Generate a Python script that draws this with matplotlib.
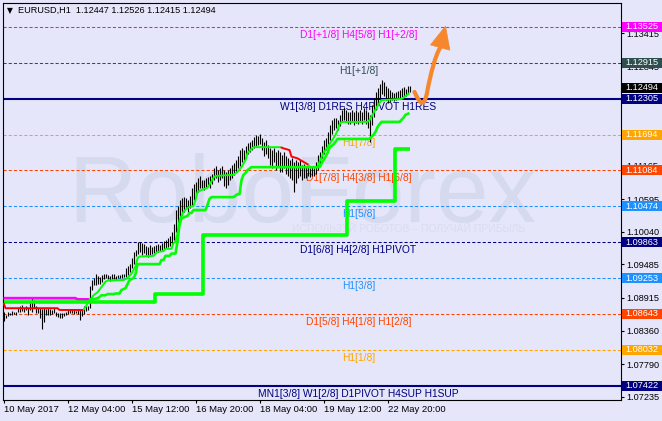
import numpy as np
import matplotlib
matplotlib.use('Agg')
import matplotlib.pyplot as plt
import matplotlib.transforms as mtransforms
from matplotlib.patches import Rectangle, PathPatch, Polygon
from matplotlib.path import Path
from matplotlib import font_manager

plt.rcParams['font.family'] = ['Liberation Sans', 'DejaVu Sans']

# ---------------- data ----------------
header = "EURUSD,H1  1.12447 1.12526 1.12415 1.12494"
current_price = 1.12494

highs = [1.0868, 1.0862, 1.0868, 1.0866, 1.0869, 1.0868, 1.0868, 1.0874, 1.0877, 1.0879,
         1.0874, 1.0877, 1.0874, 1.0885, 1.0891, 1.0888, 1.0878, 1.0874, 1.0874, 1.0872,
         1.0874, 1.0872, 1.0874, 1.0873, 1.0871, 1.0874, 1.0868, 1.0865, 1.0866, 1.0865,
         1.0866, 1.0868, 1.0871, 1.0872, 1.0871, 1.0871, 1.0870, 1.0871, 1.0871, 1.0872,
         1.0877, 1.0878, 1.0878, 1.0911, 1.0922, 1.0925, 1.0933, 1.0928, 1.0927, 1.0930,
         1.0933, 1.0933, 1.0930, 1.0929, 1.0932, 1.0933, 1.0928, 1.0930, 1.0930, 1.0932,
         1.0933, 1.0942, 1.0945, 1.0950, 1.0959, 1.0970, 1.0973, 1.0987, 1.0987, 1.0985,
         1.0983, 1.0980, 1.0978, 1.0982, 1.0978, 1.0980, 1.0982, 1.0983, 1.0982, 1.0985,
         1.0988, 1.0990, 1.0993, 1.0997, 1.1004, 1.1017, 1.1041, 1.1048, 1.1058, 1.1061,
         1.1063, 1.1061, 1.1058, 1.1065, 1.1079, 1.1085, 1.1089, 1.1096, 1.1099, 1.1092,
         1.1092, 1.1096, 1.1097, 1.1099, 1.1102, 1.1113, 1.1116, 1.1109, 1.1113, 1.1116,
         1.1109, 1.1106, 1.1109, 1.1113, 1.1118, 1.1121, 1.1126, 1.1133, 1.1143, 1.1147,
         1.1143, 1.1150, 1.1155, 1.1157, 1.1160, 1.1165, 1.1169, 1.1167, 1.1170, 1.1164,
         1.1157, 1.1160, 1.1152, 1.1147, 1.1143, 1.1147, 1.1140, 1.1143, 1.1140, 1.1135,
         1.1140, 1.1133, 1.1130, 1.1126, 1.1130, 1.1123, 1.1126, 1.1123, 1.1126, 1.1118,
         1.1119, 1.1116, 1.1116, 1.1113, 1.1116, 1.1113, 1.1123, 1.1135, 1.1140, 1.1150,
         1.1160, 1.1164, 1.1174, 1.1186, 1.1194, 1.1198, 1.1198, 1.1194, 1.1203, 1.1211,
         1.1216, 1.1211, 1.1208, 1.1208, 1.1211, 1.1208, 1.1211, 1.1208, 1.1211, 1.1208,
         1.1215, 1.1211, 1.1208, 1.1203, 1.1220, 1.1232, 1.1242, 1.1249, 1.1255, 1.1262,
         1.1259, 1.1252, 1.1249, 1.1245, 1.1242, 1.1240, 1.1242, 1.1244, 1.1245, 1.1249,
         1.1250, 1.1247, 1.1252, 1.12526]

lows = [1.0852, 1.0857, 1.0861, 1.0862, 1.0862, 1.0864, 1.0862, 1.0868, 1.0868, 1.0869,
        1.0868, 1.0871, 1.0862, 1.0871, 1.0868, 1.0874, 1.0866, 1.0865, 1.0857, 1.0838,
        1.0851, 1.0862, 1.0862, 1.0863, 1.0864, 1.0865, 1.0861, 1.0859, 1.0857, 1.0858,
        1.0861, 1.0862, 1.0864, 1.0866, 1.0866, 1.0864, 1.0865, 1.0864, 1.0854, 1.0861,
        1.0864, 1.0870, 1.0871, 1.0874, 1.0905, 1.0913, 1.0913, 1.0916, 1.0916, 1.0919,
        1.0923, 1.0925, 1.0923, 1.0921, 1.0923, 1.0923, 1.0922, 1.0925, 1.0925, 1.0925,
        1.0927, 1.0927, 1.0930, 1.0936, 1.0942, 1.0950, 1.0962, 1.0967, 1.0970, 1.0965,
        1.0968, 1.0965, 1.0961, 1.0963, 1.0966, 1.0968, 1.0970, 1.0970, 1.0971, 1.0973,
        1.0975, 1.0976, 1.0978, 1.0980, 1.0983, 1.0990, 1.1004, 1.1016, 1.1024, 1.1033,
        1.1038, 1.1045, 1.1038, 1.1045, 1.1050, 1.1058, 1.1067, 1.1072, 1.1079, 1.1079,
        1.1075, 1.1079, 1.1082, 1.1079, 1.1085, 1.1092, 1.1096, 1.1089, 1.1092, 1.1096,
        1.1082, 1.1079, 1.1084, 1.1092, 1.1096, 1.1101, 1.1106, 1.1113, 1.1116, 1.1123,
        1.1126, 1.1130, 1.1136, 1.1140, 1.1143, 1.1147, 1.1150, 1.1152, 1.1153, 1.1143,
        1.1133, 1.1136, 1.1130, 1.1118, 1.1113, 1.1123, 1.1109, 1.1116, 1.1106, 1.1106,
        1.1113, 1.1102, 1.1099, 1.1096, 1.1092, 1.1072, 1.1087, 1.1096, 1.1099, 1.1092,
        1.1096, 1.1096, 1.1099, 1.1097, 1.1099, 1.1099, 1.1102, 1.1109, 1.1116, 1.1130,
        1.1136, 1.1143, 1.1152, 1.1160, 1.1170, 1.1177, 1.1181, 1.1177, 1.1184, 1.1191,
        1.1194, 1.1191, 1.1187, 1.1187, 1.1191, 1.1186, 1.1189, 1.1187, 1.1191, 1.1187,
        1.1194, 1.1187, 1.1181, 1.1157, 1.1186, 1.1199, 1.1211, 1.1221, 1.1232, 1.1238,
        1.1235, 1.1228, 1.1223, 1.1225, 1.1228, 1.1226, 1.1228, 1.1230, 1.1232, 1.1233,
        1.1235, 1.1235, 1.1238, 1.12415]

# fast trailing line (thin): red while above price, green while below
lineA_red1_x = [0, 1, 27, 28, 40]
lineA_red1_y = [1.0883, 1.0874, 1.0874, 1.0871, 1.0871]
lineA_green1_x = [40, 41, 43, 44, 45, 47, 49, 51, 52, 60, 62, 64, 66, 67, 68, 75, 77, 80, 81, 84,
                  85, 86, 87, 88, 90, 92, 95, 96, 97, 99, 102, 103, 105, 106, 115, 117, 119, 121,
                  122, 124, 125, 138.5]
lineA_green1_y = [1.0871, 1.0876, 1.0888, 1.0891, 1.0896, 1.0901, 1.0910, 1.0919, 1.0921, 1.0922,
                  1.0925, 1.0933, 1.0945, 1.0959, 1.0962, 1.0963, 1.0970, 1.0971, 1.0975, 1.0975,
                  1.0985, 1.0987, 1.1002, 1.1024, 1.1038, 1.1045, 1.1048, 1.1058, 1.1072, 1.1075,
                  1.1079, 1.1084, 1.1096, 1.1099, 1.1101, 1.1106, 1.1114, 1.1126, 1.1138, 1.1145,
                  1.1148, 1.1148]
lineA_red2_x = [138.5, 140, 143, 144, 147, 150, 152.5]
lineA_red2_y = [1.1148, 1.1146, 1.1143, 1.1132, 1.1129, 1.1123, 1.1118]
lineA_green2_x = [152.5, 153, 157, 158, 160, 162, 164, 166, 167, 168, 169, 182, 183, 185, 187,
                  189, 199, 201, 203]
lineA_green2_y = [1.1118, 1.1114, 1.1114, 1.1123, 1.1138, 1.1148, 1.1158, 1.1169, 1.1176, 1.1187,
                  1.1191, 1.1191, 1.1194, 1.1206, 1.1218, 1.1228, 1.1230, 1.1235, 1.1240]

# medium trailing line: magenta then green
lineB_mag_x = [0, 36, 37, 43]
lineB_mag_y = [1.0891, 1.0891, 1.0889, 1.0889]
lineB_green_x = [43, 46, 47, 48, 49, 51, 52, 55, 56, 58, 59, 61, 62, 63, 65, 66, 67, 78, 79, 80,
                 81, 83, 84, 86, 87, 88, 89, 92, 93, 94, 95, 101, 102, 103, 104, 115, 117, 118,
                 119, 120, 121, 122, 124, 158, 160, 162, 163, 165, 166, 167, 183, 185, 186, 187,
                 188, 189, 198, 200, 201, 203]
lineB_green_y = [1.0888, 1.0890, 1.0891, 1.0893, 1.0896, 1.0896, 1.0898, 1.0898, 1.0899, 1.0899,
                 1.0905, 1.0908, 1.0915, 1.0922, 1.0925, 1.0932, 1.0949, 1.0949, 1.0956, 1.0956,
                 1.0963, 1.0963, 1.0967, 1.0967, 1.0987, 1.1016, 1.1027, 1.1031, 1.1036, 1.1036,
                 1.1041, 1.1041, 1.1050, 1.1060, 1.1063, 1.1063, 1.1068, 1.1068, 1.1092, 1.1101,
                 1.1104, 1.1109, 1.1114, 1.1114, 1.1126, 1.1138, 1.1147, 1.1153, 1.1157, 1.1162,
                 1.1162, 1.1169, 1.1174, 1.1182, 1.1187, 1.1191, 1.1191, 1.1198, 1.1203, 1.1206]

# slow trailing line (thick, stepped)
lineC_x = [0, 75.5, 75.5, 99.5, 99.5, 171.5, 171.5, 195.5, 195.5, 203]
lineC_y = [1.0885, 1.0885, 1.0898, 1.0898, 1.0999, 1.0999, 1.1056, 1.1056, 1.1145, 1.1145]

# Murrey math levels
levels = [1.13525, 1.12915, 1.12305, 1.11694, 1.11084, 1.10474, 1.09863, 1.09253, 1.08643,
          1.08032, 1.07422]
level_colors = ['#ff00ff', '#2f4f4f', '#000080', '#ffa500', '#ff4500', '#1e90ff', '#000080',
                '#1e90ff', '#ff4500', '#ffa500', '#000080']
level_solid = [False, False, True, False, False, False, False, False, False, False, True]
level_texts = ["D1[+1/8] H4[5/8] H1[+2/8]", "H1[+1/8]", "W1[3/8] D1RES H4PIVOT H1RES",
               "H1[7/8]", "D1[7/8] H4[3/8] H1[6/8]", "H1[5/8]", "D1[6/8] H4[2/8] H1PIVOT",
               "H1[3/8]", "D1[5/8] H4[1/8] H1[2/8]", "H1[1/8]",
               "MN1[3/8] W1[2/8] D1PIVOT H4SUP H1SUP"]

xtick_bars = [0, 32, 64, 96, 128, 160, 192]
xtick_labels = ["10 May 2017", "12 May 04:00", "15 May 12:00", "16 May 20:00",
                "18 May 04:00", "19 May 12:00", "22 May 20:00"]
ytick_values = [1.07235, 1.07790, 1.08360, 1.08915, 1.09485, 1.10040, 1.10595, 1.11165,
                1.11720, 1.12290, 1.12845, 1.13415]

# forecast arrow (bar index, price)
arrow_path_x = [205.5, 208.5, 210.5, 212.0, 213.5, 216.0, 218.3]
arrow_path_y = [1.1242, 1.1219, 1.1215, 1.1245, 1.1272, 1.1305, 1.1317]
arrow_head_x = [221.0, 213.5, 223.2]
arrow_head_y = [1.1354, 1.1322, 1.1313]

# ---------------- figure ----------------
W, H = 662, 421
BG = '#e6e6fa'
fig = plt.figure(figsize=(W / 100, H / 100), dpi=100, facecolor=BG)
ax_l, ax_r, ax_t, ax_b = 3, 621, 3, 400
ax = fig.add_axes([ax_l / W, 1 - ax_b / H, (ax_r - ax_l) / W, (ax_b - ax_t) / H])
ax.set_facecolor(BG)
ax.set_xlim(-0.25, 308.75)
ax.set_ylim(1.07178, 1.13933)
for s in ax.spines.values():
    s.set_color('black')
    s.set_linewidth(0.8)

trans = mtransforms.blended_transform_factory(ax.transAxes, ax.transData)

# watermark
names = {f.name for f in font_manager.fontManager.ttflist}
if 'Liberation Sans Narrow' in names:
    wm_family, wm_size = 'Liberation Sans Narrow', 80
else:
    wm_family, wm_size = 'Liberation Sans', 68
ax.text(68 / W, 1 - 222 / H, "RoboForex", transform=fig.transFigure, family=wm_family,
        fontsize=wm_size, color='#d6daef', ha='left', va='baseline', zorder=0.5)
ax.text(292 / W, 1 - 229 / H, "ИСПОЛЬЗУЙ РОБОТОВ – ПОЛУЧАЙ ПРИБЫЛЬ", transform=fig.transFigure,
        fontsize=7.5, color='#dadcf1', ha='left', va='center', zorder=0.5)

# levels
for lv, col, solid, txt in zip(levels, level_colors, level_solid, level_texts):
    if solid:
        ax.axhline(lv, color=col, lw=1.5, zorder=1)
    else:
        ax.axhline(lv, color=col, lw=0.75, linestyle=(0, (3, 2)), zorder=1)
    ax.annotate(txt, xy=(0.575, lv), xycoords=trans, xytext=(0, -2.2),
                textcoords='offset points', ha='center', va='top', fontsize=7.4,
                color=col, zorder=1.5)

# price bars
bar_idx = np.arange(len(highs))
ax.vlines(bar_idx, lows, highs, color='black', lw=0.8, zorder=2)

# trailing lines
ax.plot(lineB_mag_x, lineB_mag_y, color='#ff00ff', lw=2.0, zorder=3, solid_capstyle='butt')
ax.plot(lineC_x, lineC_y, color='#00ff00', lw=2.6, zorder=3.1, solid_capstyle='butt')
ax.plot(lineB_green_x, lineB_green_y, color='#00ff00', lw=1.9, zorder=3.2, solid_capstyle='butt')
ax.plot(lineA_red1_x, lineA_red1_y, color='#ff0000', lw=1.4, zorder=3.3, solid_capstyle='butt')
ax.plot(lineA_green1_x, lineA_green1_y, color='#00ff00', lw=1.4, zorder=3.3, solid_capstyle='butt')
ax.plot(lineA_red2_x, lineA_red2_y, color='#ff0000', lw=1.4, zorder=3.3, solid_capstyle='butt')
ax.plot(lineA_green2_x, lineA_green2_y, color='#00ff00', lw=1.4, zorder=3.3, solid_capstyle='butt')

# forecast arrow
ARROW = '#f5882c'
verts = list(zip(arrow_path_x, arrow_path_y))
codes = [Path.MOVETO] + [Path.CURVE4] * 6
ax.add_patch(PathPatch(Path(verts, codes), facecolor='none', edgecolor=ARROW, lw=3,
                       capstyle='round', zorder=4))
ax.add_patch(Polygon(list(zip(arrow_head_x, arrow_head_y)), closed=True, facecolor=ARROW,
                     edgecolor=ARROW, lw=0.5, zorder=4))

# axes ticks
ax.yaxis.tick_right()
ax.set_yticks(ytick_values)
ax.set_yticklabels([f"{v:.5f}" for v in ytick_values])
ax.tick_params(axis='y', direction='out', length=2.5, width=0.8, pad=1.5, labelsize=6.6,
               colors='black')
ax.set_xticks(xtick_bars)
ax.set_xticklabels(xtick_labels)
ax.tick_params(axis='x', direction='out', length=2.5, width=0.8, pad=1.2, labelsize=6.8,
               colors='black')
for lbl in ax.get_xticklabels():
    lbl.set_ha('left')

# price tags on the right
px = 0.00017016
box_h = 10 * px
tag_values = levels + [current_price]
tag_colors = level_colors + ['#000000']
for v, c in zip(tag_values, tag_colors):
    ax.add_patch(Rectangle((1.0015, v - box_h / 2), 0.08, box_h, transform=trans,
                           facecolor=c, edgecolor='none', clip_on=False, zorder=5))
    ax.text(1.0065, v, f"{v:.5f}", transform=trans, color='white', fontsize=6.6,
            ha='left', va='center', clip_on=False, zorder=6)

# header
ax.text(7 / W, 1 - 10.5 / H, "▼", transform=fig.transFigure, family='DejaVu Sans',
        fontsize=5.5, color='black', ha='left', va='center', zorder=6)
ax.text(18.3 / W, 1 - 10.7 / H, header, transform=fig.transFigure, fontsize=6.6,
        color='black', ha='left', va='center', zorder=6)

fig.savefig('out.png', dpi=100, facecolor=BG)
